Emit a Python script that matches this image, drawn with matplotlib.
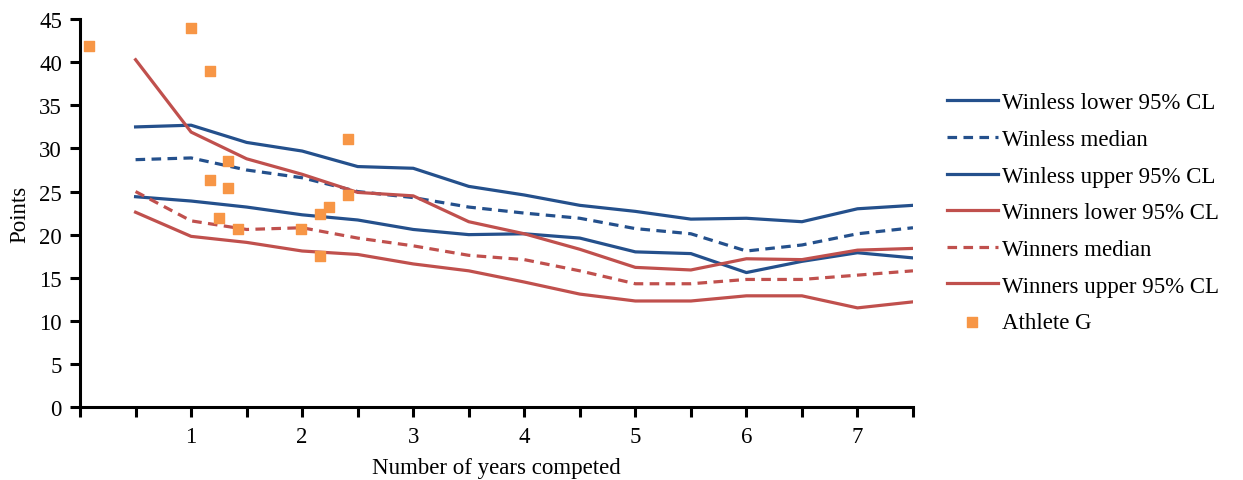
import matplotlib
matplotlib.use("Agg")
import matplotlib.pyplot as plt
import matplotlib.ticker as ticker

years = [0.5, 1, 1.5, 2, 2.5, 3, 3.5, 4, 4.5, 5, 5.5, 6, 6.5, 7, 7.5]

winless_lower = [24.4, 23.9, 23.2, 22.3, 21.7, 20.6, 20.0, 20.1, 19.6, 18.0, 17.8, 15.6, 16.9, 17.9, 17.3]
winless_median = [28.7, 28.9, 27.5, 26.6, 25.0, 24.3, 23.2, 22.5, 21.9, 20.7, 20.1, 18.1, 18.8, 20.1, 20.8]
winless_upper = [32.5, 32.7, 30.7, 29.7, 27.9, 27.7, 25.6, 24.6, 23.4, 22.7, 21.8, 21.9, 21.5, 23.0, 23.4]
winners_lower = [22.6, 19.8, 19.1, 18.1, 17.7, 16.6, 15.8, 14.5, 13.1, 12.3, 12.3, 12.9, 12.9, 11.5, 12.2]
winners_median = [25.0, 21.6, 20.6, 20.8, 19.6, 18.7, 17.6, 17.1, 15.8, 14.3, 14.3, 14.8, 14.8, 15.3, 15.8]
winners_upper = [40.3, 31.9, 28.8, 27.0, 24.9, 24.5, 21.5, 20.1, 18.3, 16.2, 15.9, 17.2, 17.1, 18.2, 18.4]

athlete_x = [0.08, 1.0, 1.17, 1.335, 1.17, 1.335, 1.25, 1.42, 1.99, 2.16, 2.16, 2.245, 2.41, 2.41]
athlete_y = [41.9, 44.0, 39.0, 28.5, 26.3, 25.4, 21.9, 20.6, 20.7, 17.5, 22.4, 23.2, 24.6, 31.1]

blue = "#24508C"
red = "#C0504D"
orange = "#F79646"

plt.rcParams["font.family"] = ["Liberation Serif", "DejaVu Serif"]
plt.rcParams["font.size"] = 16.5

fig = plt.figure(figsize=(12.43, 4.81), dpi=100)
ax = fig.add_axes([0.0644, 0.1518, 0.6701, 0.8062])

lw = 2.3
dash = (0, (3, 2))
ax.plot(years, winless_lower, color=blue, lw=lw, label="Winless lower 95% CL")
ax.plot(years, winless_median, color=blue, lw=lw, linestyle=dash, label="Winless median")
ax.plot(years, winless_upper, color=blue, lw=lw, label="Winless upper 95% CL")
ax.plot(years, winners_lower, color=red, lw=lw, label="Winners lower 95% CL")
ax.plot(years, winners_median, color=red, lw=lw, linestyle=dash, label="Winners median")
ax.plot(years, winners_upper, color=red, lw=lw, label="Winners upper 95% CL")
ax.scatter(athlete_x, athlete_y, marker="s", s=50, color=orange, zorder=3, label="Athlete G")

ax.set_xlim(0, 7.5)
ax.set_ylim(0, 45)
ax.xaxis.set_major_locator(ticker.FixedLocator([1, 2, 3, 4, 5, 6, 7]))
ax.xaxis.set_minor_locator(ticker.MultipleLocator(0.5))
ax.yaxis.set_major_locator(ticker.MultipleLocator(5))

for s in ["top", "right"]:
    ax.spines[s].set_visible(False)
for s in ["left", "bottom"]:
    ax.spines[s].set_linewidth(2.2)

ax.tick_params(axis="x", which="both", direction="out", length=7, width=2.2, pad=7)
ax.tick_params(axis="y", which="major", direction="out", length=7, width=2.2, pad=6)

ax.set_xlabel("Number of years competed", labelpad=7)
ax.set_ylabel("Points", labelpad=6)

ax.legend(loc="upper left", bbox_to_anchor=(1.03, 0.835), frameon=False,
          handlelength=2.2, handletextpad=0.2, labelspacing=0.68, borderaxespad=0)

plt.savefig("out.png", dpi=100)
